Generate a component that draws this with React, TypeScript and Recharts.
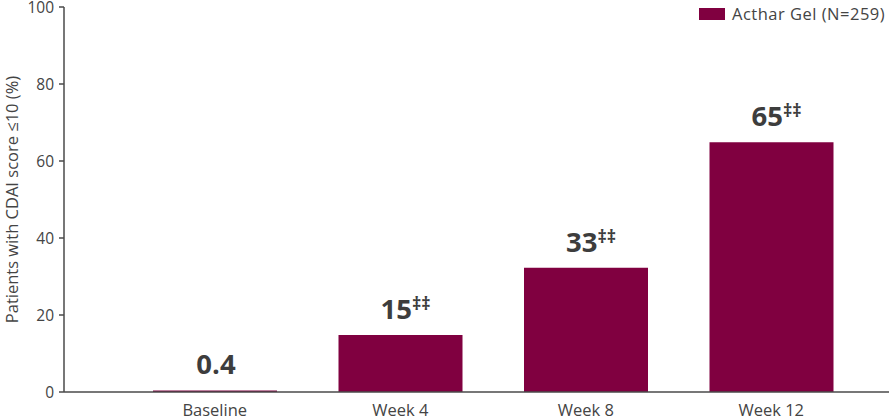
import React from 'react';
import { BarChart, Bar, XAxis, YAxis, Legend, LabelList, Label } from 'recharts';

const categories = ['Baseline', 'Week 4', 'Week 8', 'Week 12'];
const values = [0.4, 14.8, 32.3, 64.9];
const valueLabels = ['0.4', '15', '33', '65'];
const superscripts = ['', '‡‡', '‡‡', '‡‡'];
const yTicks = [0, 20, 40, 60, 80, 100];
const seriesName = 'Acthar Gel (N=259)';
const yAxisTitle = 'Patients with CDAI score ≤10 (%)';

const BAR_COLOR = '#800040';
const TEXT_COLOR = '#444444';
const AXIS_COLOR = '#4a4a4a';
const FONT = '"Open Sans", Lato, sans-serif';

const data = categories.map((c, i) => ({
  category: c,
  value: values[i],
  label: valueLabels[i],
}));

const BarValueLabel = (props: any) => {
  const vb = props.viewBox || {};
  const x = vb.x ?? props.x;
  const y = vb.y ?? props.y;
  const width = vb.width ?? props.width;
  const value = String(props.value);
  const idx = valueLabels.indexOf(value);
  const sup = idx >= 0 ? superscripts[idx] : '';
  const cx = x + width / 2 + (sup ? 5 : 1);
  return (
    <text
      x={cx}
      y={y - 16}
      textAnchor="middle"
      fontFamily={FONT}
      fontWeight={700}
      fontSize={27.5}
      fill="#3d3d3d"
    >
      {value}
      {sup ? (
        <tspan fontSize={18} dy={-9}>
          {sup}
        </tspan>
      ) : null}
    </text>
  );
};

const LegendContent = () => (
  <div style={{ display: 'flex', alignItems: 'center', fontFamily: FONT }}>
    <div style={{ width: 26, height: 12, background: BAR_COLOR, marginRight: 7 }} />
    <span style={{ fontSize: 16.5, letterSpacing: 0.5, color: TEXT_COLOR, lineHeight: '14px', whiteSpace: 'nowrap' }}>
      {seriesName}
    </span>
  </div>
);

export default function App() {
  return (
    <div style={{ position: 'absolute', left: 0, top: 0, width: 890, height: 420, background: '#fff' }}>
      <BarChart
        width={890}
        height={420}
        data={data}
        margin={{ top: 7, right: 1, bottom: 0, left: 0 }}
      >
        <XAxis
          dataKey="category"
          height={28}
          padding={{ left: 58, right: 25 }}
          tickLine={false}
          tickSize={6}
          tickMargin={6}
          axisLine={{ stroke: AXIS_COLOR, strokeWidth: 1.5 }}
          tick={{ fill: TEXT_COLOR, fontSize: 16.5, fontFamily: FONT }}
        />
        <YAxis
          width={64}
          domain={[0, 100]}
          ticks={yTicks}
          interval={0}
          tickSize={5}
          tickMargin={5}
          axisLine={{ stroke: AXIS_COLOR, strokeWidth: 1.5 }}
          tickLine={{ stroke: AXIS_COLOR, strokeWidth: 1.5 }}
          tick={{ fill: TEXT_COLOR, fontSize: 15.5, fontFamily: FONT }}
        >
          <Label
            value={yAxisTitle}
            angle={-90}
            position="insideLeft"
            offset={0}
            dx={12}
            style={{ textAnchor: 'middle', fill: TEXT_COLOR, fontSize: 16.5, fontFamily: FONT }}
          />
        </YAxis>
        <Legend
          layout="horizontal"
          verticalAlign="middle"
          align="center"
          content={<LegendContent />}
          wrapperStyle={{ position: 'absolute', top: 7, left: 699, width: 191 }}
        />
        <Bar dataKey="value" name={seriesName} fill={BAR_COLOR} barSize={124} isAnimationActive={false}>
          <LabelList dataKey="label" content={<BarValueLabel />} />
        </Bar>
      </BarChart>
    </div>
  );
}
